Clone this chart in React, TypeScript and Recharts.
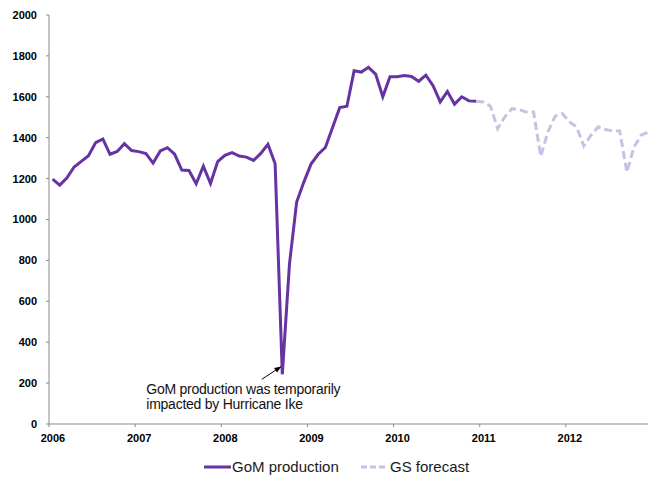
import { LineChart, Line, XAxis, YAxis, Legend, ReferenceDot } from 'recharts';

// Monthly Gulf of Mexico output, Jan 2006 - Dec 2010
const production = [
  1197, 1168, 1204, 1257, 1284, 1312, 1376, 1394, 1319, 1333, 1371, 1337,
  1332, 1322, 1276, 1335, 1351, 1319, 1242, 1240, 1175, 1261, 1176, 1283,
  1314, 1327, 1310, 1305, 1289, 1323, 1368, 1273, 243, 783, 1085, 1183,
  1271, 1319, 1352, 1450, 1547, 1554, 1727, 1721, 1744, 1711, 1600, 1698,
  1698, 1704, 1699, 1676, 1706, 1654, 1575, 1626, 1564, 1600, 1580, 1578,
];

// Forecast, Jan 2011 - Dec 2012
const forecast = [
  1575, 1554, 1444, 1502, 1542, 1537, 1526, 1526, 1309, 1428, 1505, 1518,
  1477, 1453, 1359, 1412, 1453, 1440, 1433, 1433, 1232, 1355, 1412, 1428,
];

const years = ['2006', '2007', '2008', '2009', '2010', '2011', '2012'];
const yTicks = [0, 200, 400, 600, 800, 1000, 1200, 1400, 1600, 1800, 2000];

// Hurricane Ike low point (Sep 2008)
const ikeIndex = 32;

const PURPLE = '#6633a3';
const LAVENDER = '#cdbfe3';
const AXIS = '#898989';
const FONT = '"Liberation Sans", Arial, sans-serif';

const data = Array.from({ length: production.length + forecast.length }, (_, i) => ({
  m: i + 0.5,
  production: i < production.length ? production[i] : null,
  // repeat the last actual month so the dashed line joins the solid one
  forecast:
    i === production.length - 1
      ? production[i]
      : i >= production.length
        ? forecast[i - production.length]
        : null,
}));

const XTick = ({ x, y, payload }: any) => (
  <text x={x + 4} y={y} dy="0.71em" textAnchor="middle" fontSize={11} fontWeight="bold" fill="#000" fontFamily={FONT}>
    {years[Math.round(payload.value / 12)]}
  </text>
);

const IkeNote = ({ cx, cy }: any) => (
  <g>
    <defs>
      <marker id="arrowHead" viewBox="0 0 10 10" refX="9" refY="5" markerWidth="7" markerHeight="7" orient="auto">
        <path d="M0,1 L10,5 L0,9 z" fill="#000" />
      </marker>
    </defs>
    <line x1={cx - 20.5} y1={cy + 5} x2={cx - 1.5} y2={cy - 7.5} stroke="#000" strokeWidth={1} markerEnd="url(#arrowHead)" />
    <text x={cx - 136} y={cy + 20} fontSize={14} letterSpacing={-0.25} fill="#111" fontFamily={FONT}>
      <tspan x={cx - 136}>GoM production was temporarily</tspan>
      <tspan x={cx - 136} dy={14.5}>impacted by Hurricane Ike</tspan>
    </text>
  </g>
);

const LegendBox = () => (
  <div style={{ height: 24, position: 'relative', fontFamily: FONT, fontSize: 15, color: '#1a1a1a' }}>
    <svg width={648} height={24} style={{ position: 'absolute', left: 0, top: 0 }}>
      <line x1={204} y1={12} x2={231} y2={12} stroke={PURPLE} strokeWidth={3} />
      <line x1={361} y1={12} x2={388} y2={12} stroke={LAVENDER} strokeWidth={3} strokeDasharray="6 3" />
      <text x={232} y={17} fontSize={15} fill="#1a1a1a" fontFamily={FONT}>GoM production</text>
      <text x={390} y={17} fontSize={15} fill="#1a1a1a" fontFamily={FONT}>GS forecast</text>
    </svg>
  </div>
);

export default function App() {
  return (
    <div style={{ position: 'absolute', left: 0, top: 0, width: 648, height: 479, overflow: 'hidden', background: '#fff' }}>
      <LineChart width={652} height={479} data={data} margin={{ top: 15, right: 0, bottom: 0, left: 0 }}>
        <XAxis
          dataKey="m"
          type="number"
          domain={[0, 84]}
          ticks={[0, 12, 24, 36, 48, 60, 72]}
          tick={<XTick />}
          tickSize={3}
          tickMargin={7}
          height={31}
          stroke={AXIS}
          allowDataOverflow
        />
        <YAxis
          domain={[0, 2000]}
          ticks={yTicks}
          width={49}
          tickSize={3}
          tickMargin={9}
          stroke={AXIS}
          tick={{ fontSize: 11, fontWeight: 'bold', fill: '#000', fontFamily: FONT }}
        />
        <Legend
          verticalAlign="bottom"
          content={<LegendBox />}
          wrapperStyle={{ left: 0, bottom: 0, width: 648, height: 24 }}
        />
        <Line
          type="linear"
          dataKey="production"
          name="GoM production"
          stroke={PURPLE}
          strokeWidth={3}
          dot={false}
          connectNulls={false}
          isAnimationActive={false}
        />
        <Line
          type="linear"
          dataKey="forecast"
          name="GS forecast"
          stroke={LAVENDER}
          strokeWidth={3}
          strokeDasharray="8 4"
          dot={false}
          isAnimationActive={false}
        />
        <ReferenceDot
          x={data[ikeIndex].m}
          y={production[ikeIndex]}
          r={0}
          shape={<IkeNote />}
        />
      </LineChart>
    </div>
  );
}
